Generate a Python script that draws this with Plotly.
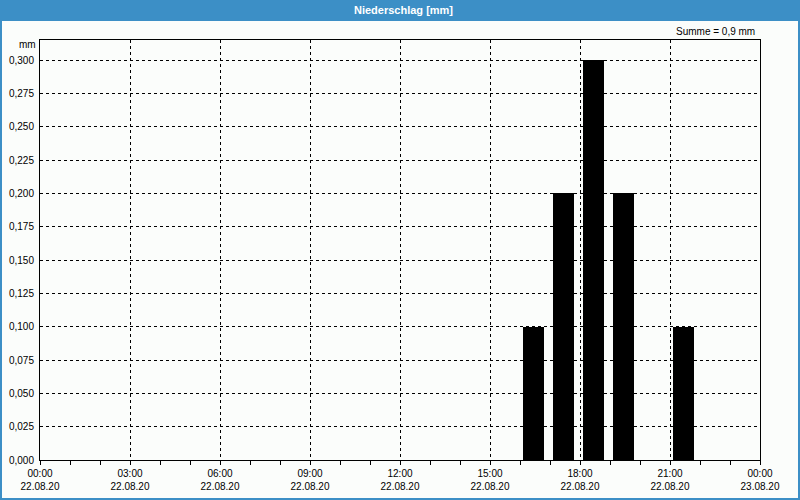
import plotly.graph_objects as go
from datetime import datetime, timedelta

# ---- data ----
hours = [16, 17, 18, 19, 21]            # hour of day (start of interval), 22.08.20
rain_mm = [0.1, 0.2, 0.3, 0.2, 0.1]     # precipitation per hour [mm]
y_ticks = [0.0, 0.025, 0.05, 0.075, 0.1, 0.125, 0.15, 0.175, 0.2, 0.225, 0.25, 0.275, 0.3]
x_tick_hours = [0, 3, 6, 9, 12, 15, 18, 21, 24]
title_text = "Niederschlag [mm]"
sum_text = "Summe = 0,9 mm"
unit_text = "mm"

base = datetime(2020, 8, 22)
bar_x = [base + timedelta(hours=h, minutes=27) for h in hours]
bar_width_ms = 42 * 60 * 1000

tickvals_x = [base + timedelta(hours=h) for h in x_tick_hours]
ticktext_x = [(t.strftime("%H:%M") + "<br>" + t.strftime("%d.%m.%y")) for t in tickvals_x]
ticktext_y = [f"{v:.3f}".replace(".", ",") for v in y_ticks]

BLUE = "#3c8fc6"
BG = "#fbfdfb"
FONT = "Liberation Sans"

fig = go.Figure()
fig.add_trace(go.Bar(
    x=bar_x, y=rain_mm, width=bar_width_ms,
    marker=dict(color="#000000", line=dict(width=0)),
    hoverinfo="skip",
))

fig.update_layout(
    width=800, height=500,
    margin=dict(l=40, r=40, t=40, b=40, autoexpand=False),
    paper_bgcolor=BG, plot_bgcolor=BG,
    showlegend=False,
    font=dict(family=FONT, size=10, color="#000000"),
    bargap=0,
)

fig.update_xaxes(
    type="date",
    range=[base, base + timedelta(hours=24)],
    tickvals=tickvals_x, ticktext=ticktext_x,
    showgrid=True, gridcolor="#000000", griddash="3px,3px", gridwidth=1,
    showline=True, linecolor="#000000", linewidth=1, mirror=True,
    ticks="outside", ticklen=4, tickcolor="#000000", tickwidth=1,
    minor=dict(dtick=3600000, ticks="outside", ticklen=4, tickcolor="#000000", showgrid=False),
    tickfont=dict(family=FONT, size=10, color="#000000"),
    zeroline=False, fixedrange=True, automargin=False,
)
fig.update_yaxes(
    range=[0, 0.315],
    tickvals=y_ticks, ticktext=ticktext_y,
    showgrid=True, gridcolor="#000000", griddash="3px,3px", gridwidth=1,
    showline=True, linecolor="#000000", linewidth=1, mirror=True,
    ticks="", ticklabelstandoff=3,
    tickfont=dict(family=FONT, size=10, color="#000000"),
    zeroline=False, fixedrange=True, automargin=False,
)

# paper coordinates: plot area x 40..760, y 40..460 (px)
def px_x(px):
    return (px - 40) / 720.0

def px_y(py):
    return (460 - py) / 420.0

shapes = [
    # title bar
    dict(type="rect", xref="paper", yref="paper",
         x0=px_x(0), x1=px_x(800), y0=px_y(21), y1=px_y(0),
         fillcolor=BLUE, line=dict(width=0), layer="above"),
    # outer border
    dict(type="rect", xref="paper", yref="paper",
         x0=px_x(1), x1=px_x(799), y0=px_y(499), y1=px_y(1),
         fillcolor="rgba(0,0,0,0)", line=dict(color=BLUE, width=2), layer="above"),
]
fig.update_layout(shapes=shapes)

fig.add_annotation(text="<b>" + title_text + "</b>", xref="paper", yref="paper",
                   x=px_x(403), y=px_y(10), xanchor="center", yanchor="middle",
                   showarrow=False, font=dict(family=FONT, size=11, color="#ffffff"))
fig.add_annotation(text=sum_text, xref="paper", yref="paper",
                   x=px_x(757), y=px_y(31), xanchor="right", yanchor="middle",
                   showarrow=False, font=dict(family=FONT, size=10, color="#000000"))
fig.add_annotation(text=unit_text, xref="paper", yref="paper",
                   x=px_x(38), y=px_y(45), xanchor="right", yanchor="middle",
                   showarrow=False, font=dict(family=FONT, size=10, color="#000000"))

fig.write_html(
    "out.html",
    config={"displayModeBar": False, "staticPlot": True},
    post_script="document.body.style.margin='0';document.body.style.padding='0';document.body.style.overflow='hidden';",
)
